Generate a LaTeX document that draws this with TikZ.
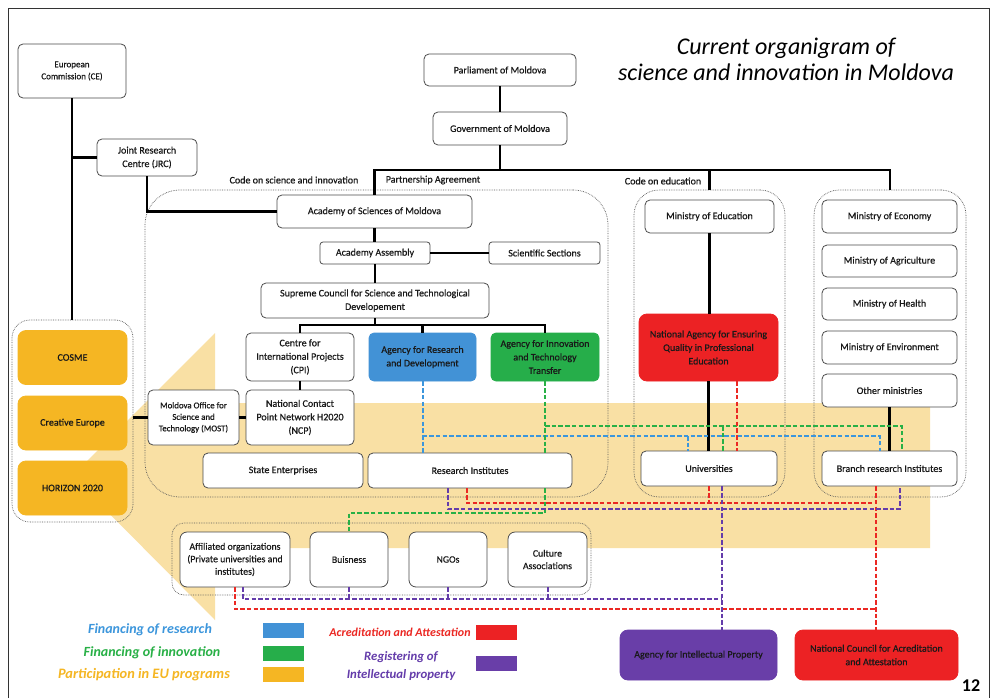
\documentclass[tikz,border=0pt]{standalone}
\usepackage{fontspec}
\setmainfont{Carlito}
\newfontfamily\bxf{Carlito}[FakeBold=0.6]
\definecolor{peach}{RGB}{249,224,164}
\definecolor{cblue}{RGB}{66,146,214}
\definecolor{cgreen}{RGB}{38,174,74}
\definecolor{cred}{RGB}{236,34,36}
\definecolor{cpurple}{RGB}{105,62,168}
\definecolor{corange}{RGB}{245,182,35}
\definecolor{lblue}{RGB}{60,150,220}
\definecolor{lgreen}{RGB}{40,176,70}
\definecolor{lred}{RGB}{235,40,35}
\definecolor{lpurple}{RGB}{100,60,170}
\tikzset{
  box/.style={draw=black!70, line width=0.8pt, rounded corners=5pt, fill=white, align=center,
    inner sep=1pt, text=black!90, font=\bxf\fontsize{10}{13.5}\selectfont},
  sbox/.style={box, font=\bxf\fontsize{9}{12}\selectfont},
  lbox/.style={box, rounded corners=7pt, font=\bxf\fontsize{9.8}{12.5}\selectfont},
  cont/.style={draw=black!65, line width=0.7pt, densely dotted},
  conn/.style={line width=2.8pt, black},
  dl/.style={line width=2pt, dash pattern=on 4.5pt off 2.2pt},
  bl/.style={dl, lblue}, gl/.style={dl, lgreen}, rl/.style={dl, lred}, pl/.style={dl, lpurple},
  lab/.style={font=\bxf\fontsize{10}{12}\selectfont, text=black!90, inner sep=0pt},
  lg/.style={font=\bfseries\itshape\fontsize{14}{18}\selectfont, align=center, inner sep=0pt},
  key/.style={minimum width=41pt, minimum height=15pt, inner sep=0pt}
}
\begin{document}
\begin{tikzpicture}[x=1pt,y=-1pt]
\useasboundingbox (0,0) rectangle (992,698);
\fill[white] (0,0) rectangle (992,698);
% frame
\draw[black!80, line width=0.8pt] (8,698) -- (8,8) -- (989,8) -- (989,698);
% big arrow
\fill[peach] (930,403) -- (215,403) -- (215,333) -- (72,476) -- (215,620) -- (215,548) -- (930,548) -- cycle;
% containers
\node[cont, rounded corners=35pt, minimum width=463pt, minimum height=307pt] (acadC) at (376.5,343.5) {};
\node[cont, rounded corners=25pt, minimum width=151pt, minimum height=307pt] (eduC) at (709.5,343.5) {};
\node[cont, rounded corners=25pt, minimum width=152pt, minimum height=307pt] (minC) at (890,343.5) {};
\node[cont, rounded corners=18pt, minimum width=121pt, minimum height=202pt] (euC) at (72.5,421) {};
\node[cont, rounded corners=12pt, minimum width=419pt, minimum height=72pt] (lowC) at (381.5,559) {};
% title
\node[font=\itshape\fontsize{24}{26}\selectfont, align=center, text=black] (title) at (786,59) {Current organigram of\\science and innovation in Moldova};
% labels
\node[lab] (lcsi) at (294,180) {Code on science and innovation};
\node[lab] (lpa) at (433,180) {Partnership Agreement};
\node[lab] (lce) at (663,181) {Code on education};
% boxes
\node[sbox, minimum width=108pt, minimum height=54pt] (ce) at (72,71) {European\\Commission (CE)};
\node[box, minimum width=100pt, minimum height=37pt] (jrc) at (147,157.5) {Joint Research\\Centre (JRC)};
\node[box, minimum width=152pt, minimum height=32pt] (parl) at (500,70) {Parliament of Moldova};
\node[box, minimum width=134pt, minimum height=33pt] (gov) at (500,128.5) {Government of Moldova};
\node[box, minimum width=195pt, minimum height=33pt] (acad) at (374.5,211.5) {Academy of Sciences of Moldova};
\node[box, rounded corners=3pt, minimum width=110pt, minimum height=22pt] (assembly) at (375,253) {Academy Assembly};
\node[box, rounded corners=3pt, minimum width=111pt, minimum height=22pt] (scisec) at (544.5,253) {Scientific Sections};
\node[box, minimum width=228pt, minimum height=35pt] (supreme) at (375,300.5) {Supreme Council for Science and Technological\\Developement};
\node[box, minimum width=108pt, minimum height=48pt] (cpi) at (300,357) {Centre for\\International Projects\\(CPI)};
\node[box, draw=cblue, fill=cblue, minimum width=107pt, minimum height=48pt] (ard) at (422.5,357) {Agency for Research\\and Development};
\node[box, draw=cgreen, fill=cgreen, minimum width=108pt, minimum height=48pt] (ait) at (545,357) {Agency for Innovation\\and Technology\\Transfer};
\node[box, minimum width=108pt, minimum height=55pt] (ncp) at (300,417.5) {National Contact\\Point Network H2020\\(NCP)};
\node[sbox, font=\bxf\fontsize{8.8}{11.5}\selectfont, minimum width=91pt, minimum height=55pt] (most) at (193.5,417.5) {Moldova Office for\\Science and\\Technology (MOST)};
\node[box, minimum width=160pt, minimum height=35pt] (se) at (283,470.5) {State Enterprises};
\node[box, minimum width=204pt, minimum height=35pt] (ri) at (470,470.5) {Research Institutes};
\node[box, minimum width=129pt, minimum height=33pt] (moe) at (709.5,216.5) {Ministry of Education};
\node[box, draw=cred, fill=cred, rounded corners=8pt, minimum width=139pt, minimum height=67pt] (naeq) at (708.5,347.5) {National Agency for Ensuring\\Quality in Professional\\Education};
\node[box, minimum width=136pt, minimum height=35pt] (univ) at (709,468.5) {Universities};
\node[box, minimum width=135pt, minimum height=33pt] (m1) at (889.5,216.5) {Ministry of Economy};
\node[box, minimum width=135pt, minimum height=32pt] (m2) at (889.5,261) {Ministry of Agriculture};
\node[box, minimum width=135pt, minimum height=32pt] (m3) at (889.5,304) {Ministry of Health};
\node[box, minimum width=135pt, minimum height=33pt] (m4) at (889.5,347.5) {Ministry of Environment};
\node[box, minimum width=135pt, minimum height=33pt] (m5) at (889.5,390.5) {Other ministries};
\node[box, minimum width=135pt, minimum height=35pt] (branch) at (889.5,468.5) {Branch research Institutes};
\node[box, draw=corange, fill=corange, rounded corners=8pt, minimum width=109pt, minimum height=54pt] (cosme) at (72.5,357.5) {COSME};
\node[box, draw=corange, fill=corange, rounded corners=8pt, minimum width=109pt, minimum height=54pt] (crea) at (72.5,423) {Creative Europe};
\node[box, draw=corange, fill=corange, rounded corners=8pt, minimum width=109pt, minimum height=54pt] (hor) at (72.5,488) {HORIZON 2020};
\node[lbox, minimum width=110pt, minimum height=55pt] (affil) at (235,559.5) {Affiliated organizations\\(Private universities and\\institutes)};
\node[lbox, minimum width=78pt, minimum height=55pt] (bus) at (349,559.5) {Buisness};
\node[lbox, minimum width=78pt, minimum height=55pt] (ngo) at (448,559.5) {NGOs};
\node[lbox, minimum width=79pt, minimum height=55pt] (cult) at (547.5,559.5) {Culture\\Associations};
\node[box, draw=cpurple, fill=cpurple, rounded corners=8pt, minimum width=157pt, minimum height=50pt] (aip) at (698.5,655) {Agency for Intellectual Property};
\node[box, draw=cred, fill=cred, rounded corners=8pt, minimum width=163pt, minimum height=50pt] (ncaa) at (876.5,655) {National Council for Acreditation\\and Attestation};
% black connectors
\draw[conn] (ce.south) -- (ce.south |- euC.north);
\coordinate (jj) at (ce.south |- jrc.west);
\draw[conn] (jj) -- (jrc.west);
\draw[conn] (jrc.south) |- (acad.west);
\draw[conn] (parl) -- (gov);
\coordinate (hb) at (0,170);
\draw[conn] (gov.south) -- (gov.south |- hb);
\draw[conn] (acad.north) -- (acad.north |- hb) -- (minC.north |- hb) -- (minC.north);
\draw[conn] (eduC.north |- hb) -- (eduC.north);
\draw[conn] (acad.south) -- (acad.south |- assembly.north);
\draw[conn] (assembly) -- (scisec);
\draw[conn] (assembly) -- (supreme);
\coordinate (hs) at (0,325);
\draw[conn] (supreme.south) -- (supreme.south |- hs);
\draw[conn] (cpi.north) -- (cpi.north |- hs) -- (ait.north |- hs) -- (ait.north);
\draw[conn] (ard.north) -- (ard.north |- hs);
\draw[conn] (cpi) -- (ncp);
\draw[conn] (ncp) -- (most);
\draw[conn] (most.west) -- (most.west -| euC.east);
\draw[conn] (moe.south) -- (moe.south |- naeq.north);
\draw[conn] (naeq.south) -- (naeq.south |- univ.north);
\draw[conn] (m5) -- (m5 |- branch.north);
% blue dashed
\draw[bl] (ard.south) -- (ard.south |- ri.north);
\coordinate (bL) at (422.5,436);
\coordinate (bR) at (880,436);
\coordinate (bU) at (688,436);
\draw[bl] (bL) -- (bR) -- (bR |- branch.north);
\draw[bl] (bU) -- (bU |- univ.north);
% green dashed
\draw[gl] (ait.south) -- (ait.south |- ri.north);
\coordinate (gL) at (545,426);
\coordinate (gR) at (902,426);
\coordinate (gU) at (723,426);
\draw[gl] (gL) -- (gR) -- (gR |- branch.north);
\draw[gl] (gU) -- (gU |- univ.north);
\coordinate (gB) at (545,513);
\draw[gl] (gB |- ri.south) -- (gB) -- (gB -| bus.north) -- (bus.north);
% red dashed
\coordinate (rN) at (737,381);
\draw[rl] (rN |- naeq.south) -- (rN |- univ.north);
\coordinate (rA) at (467,503);
\coordinate (rB) at (876,503);
\coordinate (rU) at (709,503);
\draw[rl] (rA |- ri.south) -- (rA) -- (rB);
\draw[rl] (rU |- univ.south) -- (rU);
\draw[rl] (rB |- branch.south) -- (rB |- ncaa.north);
\coordinate (rF) at (235,609);
\draw[rl] (affil.south) -- (rF) -- (rB |- rF);
% purple dashed
\coordinate (pA) at (448,509);
\coordinate (pR) at (900,509);
\coordinate (pU) at (722,509);
\draw[pl] (pA |- ri.south) -- (pA) -- (pR) -- (pR |- branch.south);
\draw[pl] (pU |- univ.south) -- (pU |- aip.north);
\coordinate (pF) at (243,599);
\draw[pl] (pF |- affil.south) -- (pF) -- (pU |- pF);
\draw[pl] (bus.south) -- (bus.south |- pF);
\draw[pl] (ngo.south) -- (ngo.south |- pF);
\draw[pl] (cult.south) -- (cult.south |- pF);
% legend
\node[lg, text=lblue] (lg1) at (150,630) {Financing of research};
\node[lg, text=lgreen] (lg2) at (152,653) {Financing of innovation};
\node[lg, text=corange, font=\bfseries\itshape\fontsize{14.4}{18}\selectfont] (lg3) at (144,675) {Participation in EU programs};
\node[lg, text=lred, font=\bfseries\itshape\fontsize{12}{18}\selectfont] (lg4) at (400,632) {Acreditation and Attestation};
\node[lg, text=lpurple, font=\bfseries\itshape\fontsize{12.8}{18}\selectfont] (lg5) at (401,666) {Registering of\\Intellectual property};
\node[key, fill=cblue] (k1) at (283.5,630.5) {};
\node[key, fill=cgreen] (k2) at (283.5,653) {};
\node[key, fill=corange] (k3) at (283.5,674) {};
\node[key, fill=cred] (k4) at (496,632) {};
\node[key, fill=cpurple] (k5) at (496,663) {};
\node[font=\bfseries\fontsize{18}{20}\selectfont] (pg) at (971,686) {12};
\end{tikzpicture}
\end{document}
